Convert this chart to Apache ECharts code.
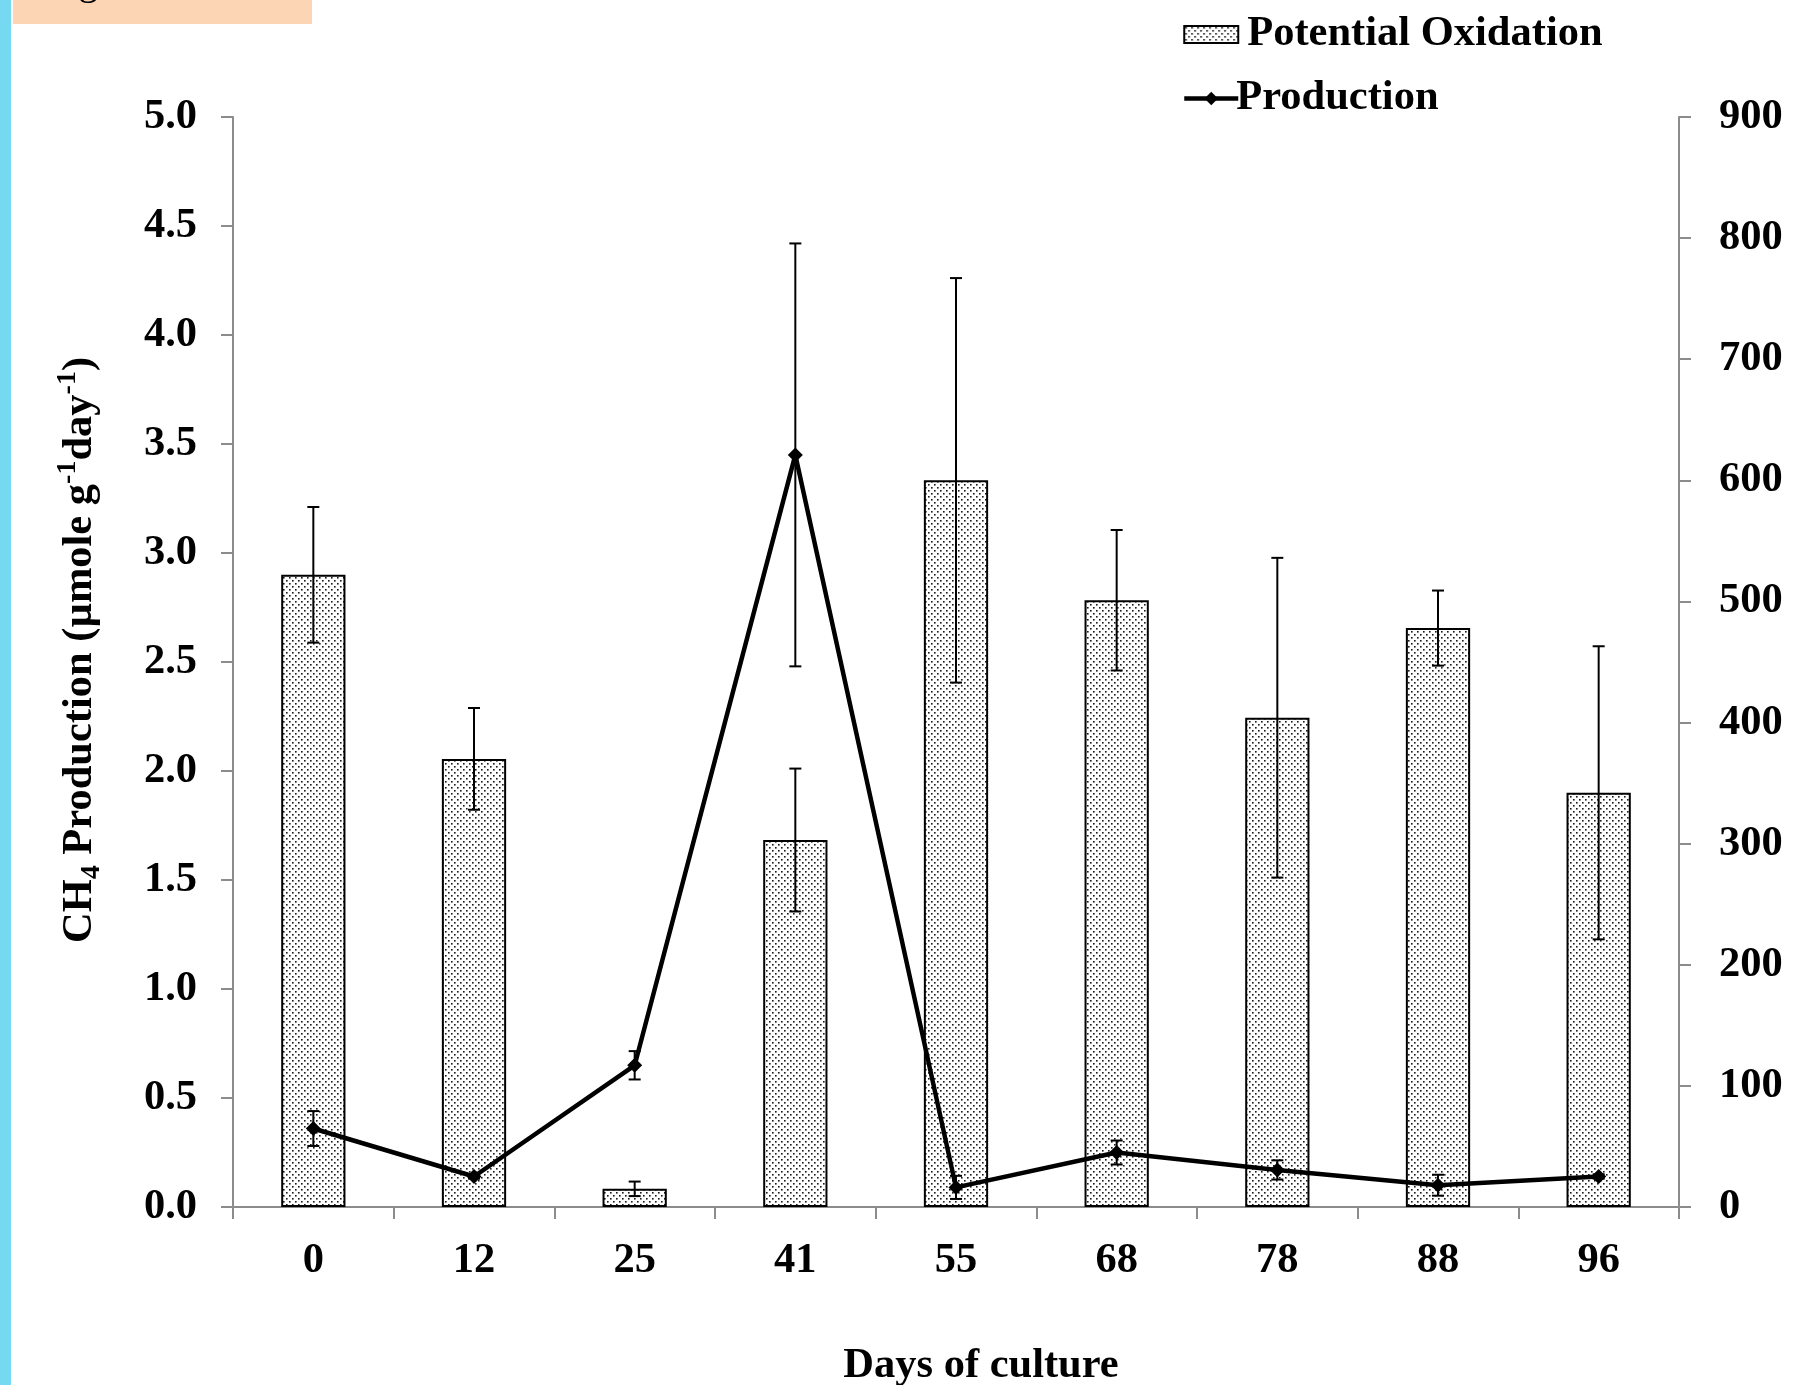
<!DOCTYPE html>
<html><head><meta charset="utf-8">
<script src="https://cdn.jsdelivr.net/npm/echarts@6/dist/echarts.min.js"></script>
<style>html,body{margin:0;padding:0;background:#fff}#c{width:1814px;height:1385px}</style>
</head><body><div id="c"></div>
<script>
// ---- data ----
const days = ['0', '12', '25', '41', '55', '68', '78', '88', '96'];
const oxidation = [522, 370, 15, 303, 600, 501, 404, 478, 342];          // right axis
const oxidationErr = [56, 42, 6, 59, 167, 58, 132, 31, 121];
const production = [0.36, 0.14, 0.65, 3.45, 0.09, 0.25, 0.17, 0.10, 0.14]; // left axis
const productionErr = [0.08, 0.01, 0.065, 0.97, 0.053, 0.055, 0.044, 0.048, 0.01];
const leftAxisRange = [0, 5, 0.5];
const rightAxisRange = [0, 900, 100];

// ---- styles ----
const FONT = '"Liberation Serif", "Times New Roman", serif';
const AXIS_GRAY = '#8c8c8c';
const FS = 42.5;
const pat = document.createElement('canvas');
pat.width = 6; pat.height = 6;
const g = pat.getContext('2d');
g.fillStyle = '#fff'; g.fillRect(0, 0, 6, 6);
g.fillStyle = '#1a1a1a';
g.fillRect(1, 1, 1.6, 1.6);
g.fillRect(4, 4, 1.6, 1.6);

function errRender(capHalf) {
  return function (params, api) {
    const x = api.value(0), lo = api.value(1), hi = api.value(2);
    const p1 = api.coord([x, hi]);
    const p2 = api.coord([x, lo]);
    const st = { stroke: '#000', lineWidth: 2 };
    return {
      type: 'group', children: [
        { type: 'line', shape: { x1: p1[0], y1: p1[1], x2: p2[0], y2: p2[1] }, style: st },
        { type: 'line', shape: { x1: p1[0] - capHalf, y1: p1[1], x2: p1[0] + capHalf, y2: p1[1] }, style: st },
        { type: 'line', shape: { x1: p2[0] - capHalf, y1: p2[1], x2: p2[0] + capHalf, y2: p2[1] }, style: st }
      ]
    };
  };
}

const chart = echarts.init(document.getElementById('c'), null, { renderer: 'canvas' });
const labelStyle = { fontFamily: FONT, fontWeight: 'bold', fontSize: FS, color: '#000' };

chart.setOption({
  animation: false,
  backgroundColor: '#fff',
  graphic: [
    { type: 'rect', shape: { x: 0, y: 0, width: 11, height: 1385 }, style: { fill: '#74d9f1' }, z: 0 },
    { type: 'rect', shape: { x: 13, y: 0, width: 299, height: 24 }, style: { fill: '#fcd5b5' }, z: 0 },
    { type: 'text', x: 45, y: -17, style: { text: 'Figure', font: '40px ' + FONT, fill: '#000', verticalAlign: 'middle' }, z: 1 }
  ],
  legend: {
    orient: 'vertical', left: 1182, top: 13, padding: 0, itemGap: 21, itemWidth: 54, itemHeight: 17,
    textStyle: labelStyle,
    data: [
      { name: 'Potential Oxidation', icon: 'rect', textStyle: { padding: [0, 0, 0, 4] } },
      { name: 'Production', textStyle: { padding: [0, 0, 0, -7] }, lineStyle: { width: 4.5, color: '#000' } }
    ]
  },
  grid: { left: 233, right: 135, top: 117, bottom: 178, containLabel: false, outerBoundsMode: 'none' },
  xAxis: {
    type: 'category', data: days, boundaryGap: true,
    axisLine: { lineStyle: { color: AXIS_GRAY, width: 2 } },
    axisTick: { show: true, length: 12, lineStyle: { color: AXIS_GRAY, width: 2 } },
    axisLabel: Object.assign({ margin: 33 }, labelStyle),
    name: 'Days of culture', nameLocation: 'middle', nameGap: 138,
    nameTextStyle: Object.assign({ padding: [0, 0, 0, 50] }, labelStyle)
  },
  yAxis: [
    {
      type: 'value', min: leftAxisRange[0], max: leftAxisRange[1], interval: leftAxisRange[2],
      position: 'left',
      axisLine: { show: true, lineStyle: { color: AXIS_GRAY, width: 2 } },
      axisTick: { show: true, length: 12, lineStyle: { color: AXIS_GRAY, width: 2 } },
      splitLine: { show: false },
      axisLabel: Object.assign({ margin: 36, formatter: v => v.toFixed(1) }, labelStyle),
      name: '{a|CH}{sub|4}{a| Production (µmole g}{sup|-1}{a|day}{sup|-1}{a|)}',
      nameLocation: 'middle', nameRotate: 90, nameGap: 127,
      nameTextStyle: {
        fontFamily: FONT, fontWeight: 'bold', fontSize: FS, color: '#000',
        padding: [0, 0, 0, 24],
        rich: {
          a: { fontFamily: FONT, fontWeight: 'bold', fontSize: FS, color: '#000', lineHeight: 52, verticalAlign: 'middle' },
          sub: { fontFamily: FONT, fontWeight: 'bold', fontSize: 28, color: '#000', lineHeight: 28, verticalAlign: 'bottom' },
          sup: { fontFamily: FONT, fontWeight: 'bold', fontSize: 28, color: '#000', lineHeight: 28, verticalAlign: 'top' }
        }
      }
    },
    {
      type: 'value', min: rightAxisRange[0], max: rightAxisRange[1], interval: rightAxisRange[2],
      position: 'right',
      axisLine: { show: true, lineStyle: { color: AXIS_GRAY, width: 2 } },
      axisTick: { show: true, length: 12, lineStyle: { color: AXIS_GRAY, width: 2 } },
      splitLine: { show: false },
      axisLabel: Object.assign({ margin: 40 }, labelStyle)
    }
  ],
  series: [
    {
      name: 'Potential Oxidation', type: 'bar', yAxisIndex: 1, data: oxidation, barWidth: '40%',
      itemStyle: { color: { image: pat, repeat: 'repeat' }, borderColor: '#000', borderWidth: 2 },
      z: 2
    },
    {
      type: 'custom', yAxisIndex: 1, z: 3,
      renderItem: errRender(6),
      encode: { x: 0, y: [1, 2] },
      data: oxidation.map((v, i) => [i, v - oxidationErr[i], v + oxidationErr[i]])
    },
    {
      name: 'Production', type: 'line', yAxisIndex: 0, data: production,
      symbol: 'diamond', symbolSize: 15,
      lineStyle: { color: '#000', width: 4.5 },
      itemStyle: { color: '#000' },
      z: 5
    },
    {
      type: 'custom', yAxisIndex: 0, z: 6,
      renderItem: errRender(6),
      encode: { x: 0, y: [1, 2] },
      data: production.map((v, i) => [i, v - productionErr[i], v + productionErr[i]])
    }
  ]
});
</script>
</body></html>
